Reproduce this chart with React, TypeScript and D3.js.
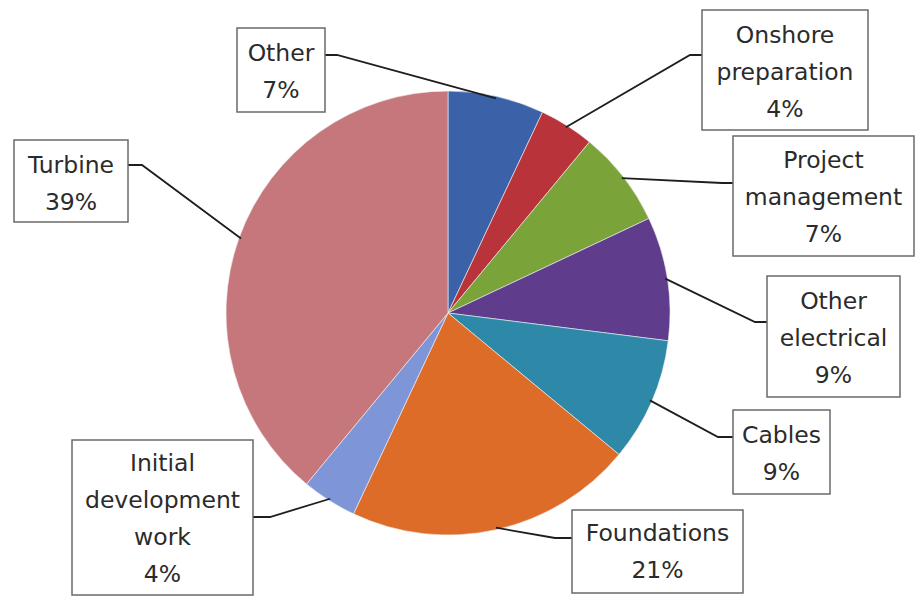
import React from "react";
import * as d3 from "d3";

const categories = [
  "Other",
  "Onshore preparation",
  "Project management",
  "Other electrical",
  "Cables",
  "Foundations",
  "Initial development work",
  "Turbine",
];
const values = [7, 4, 7, 9, 9, 21, 4, 39];
const colors = ["#3B62A8", "#B8333A", "#7AA33A", "#5F3D8C", "#2E88A8", "#DD6C28", "#7E96D8", "#C5777C"];
const labelLines = [
  ["Other", "7%"],
  ["Onshore", "preparation", "4%"],
  ["Project", "management", "7%"],
  ["Other", "electrical", "9%"],
  ["Cables", "9%"],
  ["Foundations", "21%"],
  ["Initial", "development", "work", "4%"],
  ["Turbine", "39%"],
];

// layout of label boxes: [x0, y0, x1, y1, attachX, attachY, elbowX, firstLineY]
const boxLayout = [
  [237, 28, 325, 112, 325, 55, 337, 53],
  [702, 10, 868, 130, 702, 55, 690, 35],
  [733, 136, 914, 256, 733, 183, 722, 160],
  [767, 276, 900, 397, 767, 322, 755, 301],
  [733, 410, 830, 494, 733, 437, 718, 435],
  [572, 510, 743, 593, 572, 538, 555, 533],
  [72, 440, 253, 595, 253, 517, 270, 463],
  [14, 140, 128, 222, 128, 165, 142, 165],
];

const CX = 448;
const CY = 313;
const R = 222;
const LINE_H = 37;

export default function App() {
  const pie = d3.pie<number>().sort(null).value((d) => d)(values);
  const arc = d3.arc<d3.PieArcDatum<number>>().innerRadius(0).outerRadius(R);
  const edge = d3.arc<d3.PieArcDatum<number>>().innerRadius(R - 2).outerRadius(R - 2);

  return (
    <svg
      width={915}
      height={596}
      style={{ position: "absolute", left: 0, top: 0, background: "#fff" }}
      fontFamily="'DejaVu Sans', sans-serif"
    >
      <rect x={0} y={0} width={915} height={596} fill="#fff" />
      <g transform={`translate(${CX},${CY})`}>
        {pie.map((p, i) => (
          <path key={i} d={arc(p) || ""} fill={colors[i]} stroke="#f4f4f4" strokeWidth={0.6} />
        ))}
      </g>
      {pie.map((p, i) => {
        const [ex, ey] = edge.centroid(p);
        const b = boxLayout[i];
        const pts: [number, number][] = [
          [CX + ex, CY + ey],
          [b[6], b[5]],
          [b[4], b[5]],
        ];
        return (
          <path
            key={"l" + i}
            d={d3.line()(pts) || ""}
            fill="none"
            stroke="#1e1e1e"
            strokeWidth={1.8}
          />
        );
      })}
      {boxLayout.map((b, i) => (
        <g key={"b" + i}>
          <rect
            x={b[0]}
            y={b[1]}
            width={b[2] - b[0]}
            height={b[3] - b[1]}
            fill="#fff"
            stroke="#6a6a6a"
            strokeWidth={1.5}
          />
          {labelLines[i].map((t, j) => (
            <text
              key={j}
              x={(b[0] + b[2]) / 2}
              y={b[7] + j * LINE_H}
              textAnchor="middle"
              dominantBaseline="central"
              fontSize={23.5}
              fill="#2b2b2b"
            >
              {t}
            </text>
          ))}
        </g>
      ))}
    </svg>
  );
}
